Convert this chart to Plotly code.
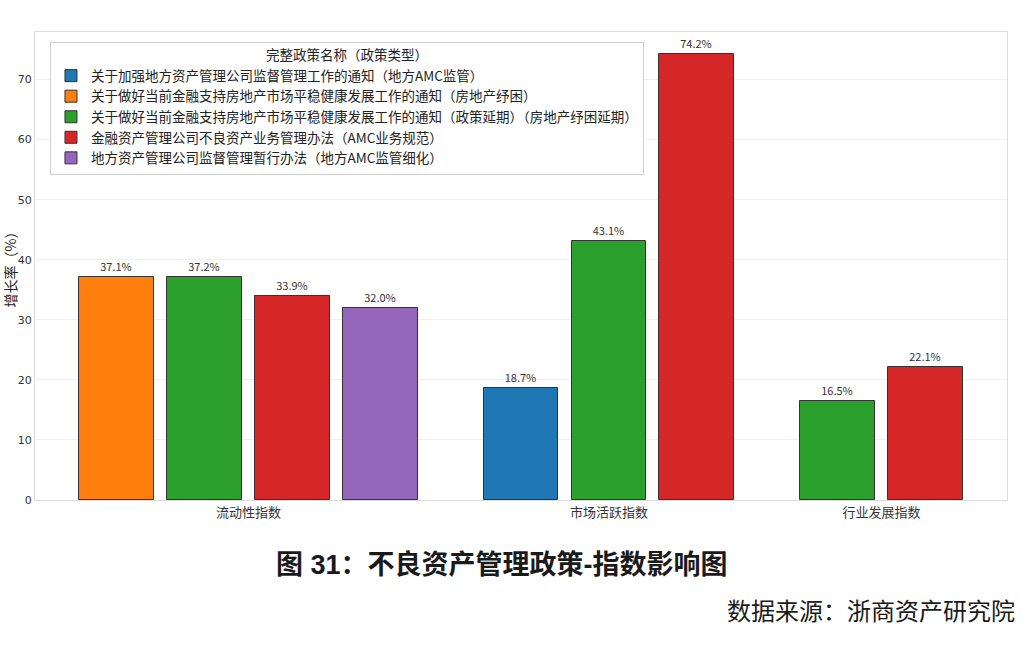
import plotly.graph_objects as go

categories = ["流动性指数", "市场活跃指数", "行业发展指数"]
series_names = [
    "关于加强地方资产管理公司监督管理工作的通知（地方AMC监管）",
    "关于做好当前金融支持房地产市场平稳健康发展工作的通知（房地产纾困）",
    "关于做好当前金融支持房地产市场平稳健康发展工作的通知（政策延期）（房地产纾困延期）",
    "金融资产管理公司不良资产业务管理办法（AMC业务规范）",
    "地方资产管理公司监督管理暂行办法（地方AMC监管细化）",
]
s1_values = [None, 18.7, None]
s2_values = [37.1, None, None]
s3_values = [37.2, 43.1, 16.5]
s4_values = [33.9, 74.2, 22.1]
s5_values = [32.0, None, None]
series_values = [s1_values, s2_values, s3_values, s4_values, s5_values]
colors = ["#1f77b4", "#ff7f0e", "#2ca02c", "#d62728", "#9467bd"]

# layout: bars of present series placed consecutively per category
BAR_W = 0.85
GROUP_GAP = 1.6
positions = [[None] * len(categories) for _ in series_names]
centers = []
cur = 0.0
for ci in range(len(categories)):
    start = cur
    idx = [si for si in range(len(series_names)) if series_values[si][ci] is not None]
    for k, si in enumerate(idx):
        positions[si][ci] = start + k
    last = start + len(idx) - 1
    centers.append((start + last) / 2)
    cur = last + GROUP_GAP

fig = go.Figure()
font_cjk = "Noto Sans CJK SC, DejaVu Sans, sans-serif"
for si, name in enumerate(series_names):
    xs, ys, txt = [], [], []
    for ci in range(len(categories)):
        v = series_values[si][ci]
        if v is not None:
            xs.append(positions[si][ci])
            ys.append(v)
            txt.append(f"{v:.1f}%")
    fig.add_trace(go.Bar(
        x=xs, y=ys, name=name, width=BAR_W,
        marker=dict(color=colors[si], line=dict(color="#333333", width=1)),
        text=txt, textposition="outside", cliponaxis=False,
        textfont=dict(size=11, color="#333333", family=font_cjk),
    ))

all_x = [p for row in positions for p in row if p is not None]
xmin = min(all_x) - BAR_W / 2
xmax = max(all_x) + BAR_W / 2
pad = (xmax - xmin) * 0.05
ymax = max(v for row in series_values for v in row if v is not None) * 1.05

fig.update_layout(
    width=1022, height=646,
    margin=dict(l=35, r=15, t=32, b=146),
    paper_bgcolor="white", plot_bgcolor="white",
    font=dict(family=font_cjk, color="#333333"),
    showlegend=True,
    bargap=0,
    legend=dict(
        x=0.0154, y=0.979, xanchor="left", yanchor="top",
        bgcolor="rgba(255,255,255,0.9)", bordercolor="#d0d0d0", borderwidth=1,
        font=dict(size=13.5, color="#222222", family=font_cjk),
        title=dict(text="完整政策名称（政策类型）", side="top center",
                   font=dict(size=13.5, color="#222222", family=font_cjk)),
        tracegroupgap=0, itemwidth=30,
    ),
    xaxis=dict(
        range=[xmin - pad, xmax + pad],
        tickvals=centers, ticktext=categories,
        tickfont=dict(size=13, color="#333333"),
        showgrid=False, zeroline=False,
        showline=True, linecolor="#dddddd", linewidth=1, mirror=True,
        ticks="", automargin=False,
    ),
    yaxis=dict(
        range=[0, ymax],
        tickvals=[0, 10, 20, 30, 40, 50, 60, 70],
        tickfont=dict(size=11, color="#333333", family="DejaVu Sans, sans-serif"),
        showgrid=True, gridcolor="#f0f0f0", gridwidth=1,
        zeroline=False,
        showline=True, linecolor="#dddddd", linewidth=1, mirror=True,
        ticks="", automargin=False,
        title=dict(text="增长率（%）", font=dict(size=14, color="#222222"), standoff=2),
    ),
)

fig.add_annotation(
    text="<b>图 31：不良资产管理政策-指数影响图</b>",
    xref="paper", yref="paper", x=0.48, y=-0.139, xanchor="center", yanchor="middle",
    showarrow=False,
    font=dict(size=27, color="#1a1a1a", family="Liberation Sans, Noto Sans CJK SC, sans-serif"),
)
fig.add_annotation(
    text="数据来源：浙商资产研究院",
    xref="paper", yref="paper", x=1.0105, y=-0.235, xanchor="right", yanchor="middle",
    showarrow=False,
    font=dict(size=24, color="#1a1a1a", family="Noto Sans CJK SC, sans-serif"),
)

fig.write_html("out.html")
